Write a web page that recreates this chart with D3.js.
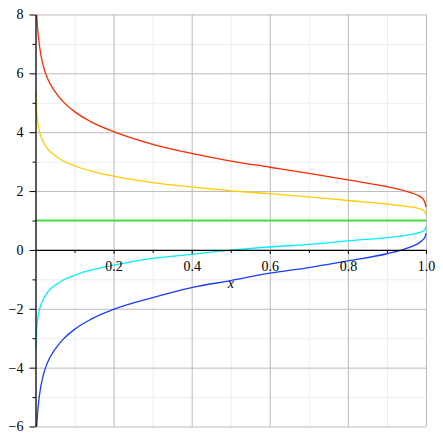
<!DOCTYPE html>
<html>
<head>
<meta charset="utf-8">
<script src="https://cdn.jsdelivr.net/npm/d3@7"></script>
<style>
  body { margin: 0; background: #fff; }
  svg { display: block; }
</style>
</head>
<body>
<div id="container"></div>
<script>
// sample x positions (shared by all curves)
var xVals = [0.0005, 0.001, 0.003, 0.005, 0.01, 0.02, 0.03, 0.05, 0.07, 0.1, 0.14, 0.2, 0.3, 0.4, 0.5, 0.6, 0.7, 0.8, 0.9, 0.95, 0.99, 0.997, 1.0];

// curve values
var redVals    = [9.8, 9.05, 8.05, 7.6, 6.95, 6.25, 5.85, 5.38, 5.05, 4.7, 4.37, 4.02, 3.59, 3.28, 3.02, 2.81, 2.6, 2.38, 2.15, 1.99, 1.77, 1.62, 1.45];
var yellowVals = [5.42, 5.1, 4.65, 4.4, 4.03, 3.67, 3.45, 3.21, 3.03, 2.86, 2.69, 2.51, 2.29, 2.14, 2.01, 1.91, 1.8, 1.68, 1.56, 1.48, 1.37, 1.3, 1.2];
var greenVals  = [1, 1, 1, 1, 1, 1, 1, 1, 1, 1, 1, 1, 1, 1, 1, 1, 1, 1, 1, 1, 1, 1, 1];
var cyanVals   = [-3.4, -3.1, -2.65, -2.4, -2.03, -1.67, -1.45, -1.2, -1.03, -0.86, -0.69, -0.52, -0.29, -0.15, -0.01, 0.1, 0.19, 0.31, 0.42, 0.5, 0.62, 0.7, 0.81];
var blueVals   = [-7.8, -7.05, -6.05, -5.6, -4.95, -4.25, -3.85, -3.38, -3.05, -2.7, -2.37, -2.02, -1.62, -1.28, -1.04, -0.79, -0.6, -0.37, -0.13, 0.05, 0.32, 0.42, 0.57];

// ticks
var xMajor = [0.2, 0.4, 0.6, 0.8, 1.0];
var xMinor = [0.1, 0.3, 0.5, 0.7, 0.9];
var yMajor = [-6, -4, -2, 0, 2, 4, 6, 8];
var yMinor = [-5, -3, -1, 1, 3, 5, 7];

var series = [
    { name: "red", vals: redVals, color: "#ff2a00", w: 1.3 },
    { name: "yellow", vals: yellowVals, color: "#ffcc00", w: 1.3 },
    { name: "green", vals: greenVals, color: "#44e044", w: 1.8 },
    { name: "cyan", vals: cyanVals, color: "#00f0ff", w: 1.3 },
    { name: "blue", vals: blueVals, color: "#1a3cff", w: 1.3 }
];

var serif = "'Liberation Serif', 'Times New Roman', Times, serif";
var width = 443;
var height = 443;

var svg = d3.select("#container")
    .append("svg")
    .attr("width", width)
    .attr("height", height);

var xScale = d3.scaleLinear().domain([0, 1]).range([35.5, 426]);
var yScale = d3.scaleLinear().domain([-6, 8]).range([426.5, 14.5]);

// minor grid
svg.append("g")
    .attr("class", "grid-minor")
    .attr("transform", "translate(0," + yScale(-6) + ")")
    .call(d3.axisBottom(xScale).tickValues(xMinor)
        .tickSize(-(yScale(-6) - yScale(8))).tickFormat(""));
svg.append("g")
    .attr("class", "grid-minor")
    .attr("transform", "translate(" + xScale(0) + ",0)")
    .call(d3.axisLeft(yScale).tickValues(yMinor)
        .tickSize(-(xScale(1) - xScale(0))).tickFormat(""));

// major grid
svg.append("g")
    .attr("class", "grid-major")
    .attr("transform", "translate(0," + yScale(-6) + ")")
    .call(d3.axisBottom(xScale).tickValues(xMajor)
        .tickSize(-(yScale(-6) - yScale(8))).tickFormat(""));
svg.append("g")
    .attr("class", "grid-major")
    .attr("transform", "translate(" + xScale(0) + ",0)")
    .call(d3.axisLeft(yScale).tickValues([-6, -4, -2, 2, 4, 6, 8])
        .tickSize(-(xScale(1) - xScale(0))).tickFormat(""));

svg.selectAll(".grid-minor .domain, .grid-major .domain").remove();
svg.selectAll(".grid-minor line").attr("stroke", "#ececec");
svg.selectAll(".grid-major line").attr("stroke", "#bbbbbb");

// curves, clipped to the plot box
svg.append("clipPath").attr("id", "plotclip")
    .append("rect")
    .attr("x", xScale(0))
    .attr("y", yScale(8))
    .attr("width", xScale(1) - xScale(0) + 1)
    .attr("height", yScale(-6) - yScale(8));

var line = d3.line()
    .x(function (d) { return xScale(d[0]); })
    .y(function (d) { return yScale(d[1]); })
    .curve(d3.curveMonotoneX);

var curves = svg.append("g").attr("clip-path", "url(#plotclip)");
series.forEach(function (s) {
    curves.append("path")
        .datum(xVals.map(function (x, i) { return [x, s.vals[i]]; }))
        .attr("fill", "none")
        .attr("stroke", s.color)
        .attr("stroke-width", s.w)
        .attr("d", line);
});

// y axis at x = 0
svg.append("g")
    .attr("class", "axis")
    .attr("transform", "translate(" + xScale(0) + ",0)")
    .call(d3.axisLeft(yScale).tickValues(yMajor).tickSize(6).tickPadding(6).tickSizeOuter(0));
svg.append("g")
    .attr("class", "axis")
    .attr("transform", "translate(" + xScale(0) + ",0)")
    .call(d3.axisLeft(yScale).tickValues(yMinor).tickSize(3).tickFormat("").tickSizeOuter(0))
    .select(".domain").remove();

// x axis at y = 0
svg.append("g")
    .attr("class", "axis")
    .attr("transform", "translate(0," + yScale(0) + ")")
    .call(d3.axisBottom(xScale).tickValues(xMajor).tickSize(4).tickPadding(7.5).tickSizeOuter(0)
        .tickFormat(d3.format(".1f")));
svg.append("g")
    .attr("class", "axis")
    .attr("transform", "translate(0," + yScale(0) + ")")
    .call(d3.axisBottom(xScale).tickValues(xMinor).tickSize(3).tickFormat("").tickSizeOuter(0))
    .select(".domain").remove();

svg.selectAll(".axis .domain").attr("stroke", "#000").attr("stroke-width", 1.3);
svg.selectAll(".axis line").attr("stroke", "#000");
svg.selectAll(".axis text")
    .style("font-family", serif)
    .style("font-size", "14px")
    .attr("fill", "#000");

// axis label
svg.append("text")
    .attr("x", xScale(0.5))
    .attr("y", 288)
    .attr("text-anchor", "middle")
    .style("font-family", serif)
    .style("font-size", "14px")
    .style("font-style", "italic")
    .text("x");
</script>
</body>
</html>
